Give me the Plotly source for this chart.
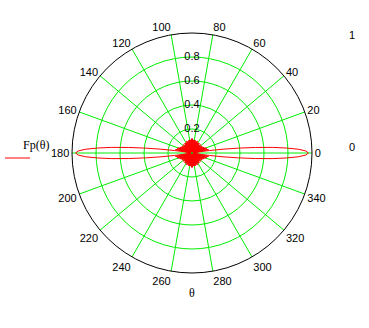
import numpy as np
import plotly.graph_objects as go

# Fp(theta) for one quadrant, 1 degree steps (pattern is symmetric)
quad_r = [0.97, 0.95, 0.89, 0.79, 0.67, 0.53, 0.39, 0.26, 0.15, 0.06,
          0.01, 0.08, 0.14, 0.10, 0.03, 0.02, 0.09, 0.13, 0.07, 0.01,
          0.05, 0.12, 0.10, 0.03, 0.02, 0.08, 0.11, 0.06, 0.01, 0.04,
          0.10, 0.09, 0.03, 0.02, 0.07, 0.10, 0.06, 0.01, 0.04, 0.09,
          0.08, 0.02, 0.03, 0.08, 0.10, 0.05, 0.01, 0.05, 0.09, 0.07,
          0.02, 0.03, 0.09, 0.10, 0.04, 0.01, 0.06, 0.10, 0.06, 0.02,
          0.04, 0.10, 0.09, 0.03, 0.02, 0.08, 0.11, 0.05, 0.01, 0.05,
          0.10, 0.08, 0.02, 0.03, 0.09, 0.11, 0.04, 0.01, 0.06, 0.11,
          0.07, 0.02, 0.04, 0.11, 0.09, 0.03, 0.02, 0.08, 0.12, 0.05,
          0.01]
quad_theta = list(range(len(quad_r)))

angle_ticks = list(range(0, 360, 20))
angle_labels = [str(a) for a in angle_ticks]
radial_ticks = [0.2, 0.4, 0.6, 0.8]
radial_labels = ["0.2", "0.4", "0.6", "0.8"]

qt = np.array(quad_theta, dtype=float)
qr = np.array(quad_r)
theta = np.concatenate([qt, 180 - qt[::-1], 180 + qt, 360 - qt[::-1]])
r = np.concatenate([qr, qr[::-1], qr, qr[::-1]])

fig = go.Figure()
fig.add_trace(go.Scatterpolar(r=r, theta=theta, mode="lines",
                              line=dict(color="#ff0000", width=1),
                              name="Fp(θ)", showlegend=False))
# radial tick labels, centred on the 90 degree spoke as in the reference
fig.add_trace(go.Scatterpolar(r=radial_ticks, theta=[90] * len(radial_ticks),
                              mode="text", text=radial_labels,
                              textposition="middle center",
                              textfont=dict(family="Liberation Sans", size=11, color="black"),
                              hoverinfo="skip", showlegend=False))

W, H = 369, 328
cx, cy, R = 192, 153, 120
fig.update_layout(
    width=W, height=H,
    margin=dict(l=0, r=0, t=0, b=0),
    paper_bgcolor="white",
    showlegend=False,
    polar=dict(
        domain=dict(x=[(cx - R) / W, (cx + R) / W],
                    y=[(H - cy - R) / H, (H - cy + R) / H]),
        bgcolor="white",
        angularaxis=dict(
            tickmode="array", tickvals=angle_ticks, ticktext=angle_labels,
            direction="counterclockwise", rotation=0,
            showline=True, linecolor="black", linewidth=1,
            showgrid=True, gridcolor="#00ee00", gridwidth=1,
            ticks="", tickfont=dict(family="Liberation Sans", size=11, color="black"),
        ),
        radialaxis=dict(
            range=[0, 1], angle=90,
            tickmode="array", tickvals=radial_ticks,
            showticklabels=False,
            showline=False, showgrid=True, gridcolor="#00ee00", gridwidth=1,
            ticks="",
        ),
    ),
    font=dict(family="Liberation Sans", size=11, color="black"),
)

fig.add_annotation(x=21 / W, y=1 - 145 / H, xref="paper", yref="paper",
                   text="Fp(θ)", showarrow=False,
                   font=dict(family="Liberation Serif", size=12, color="black"))
fig.add_shape(type="line", xref="paper", yref="paper",
              x0=5 / W, x1=30 / W, y0=1 - 158 / H, y1=1 - 158 / H,
              line=dict(color="#ff0000", width=1))
fig.add_annotation(x=192 / W, y=1 - 302 / H, xref="paper", yref="paper",
                   text="θ", showarrow=False,
                   font=dict(family="Liberation Serif", size=12, color="black"))
fig.add_annotation(x=357 / W, y=1 - 27 / H, xref="paper", yref="paper",
                   text="1", showarrow=False,
                   font=dict(family="Liberation Sans", size=11, color="black"))
fig.add_annotation(x=357 / W, y=1 - 147 / H, xref="paper", yref="paper",
                   text="0", showarrow=False,
                   font=dict(family="Liberation Sans", size=11, color="black"))

fig.write_html("out.html")
